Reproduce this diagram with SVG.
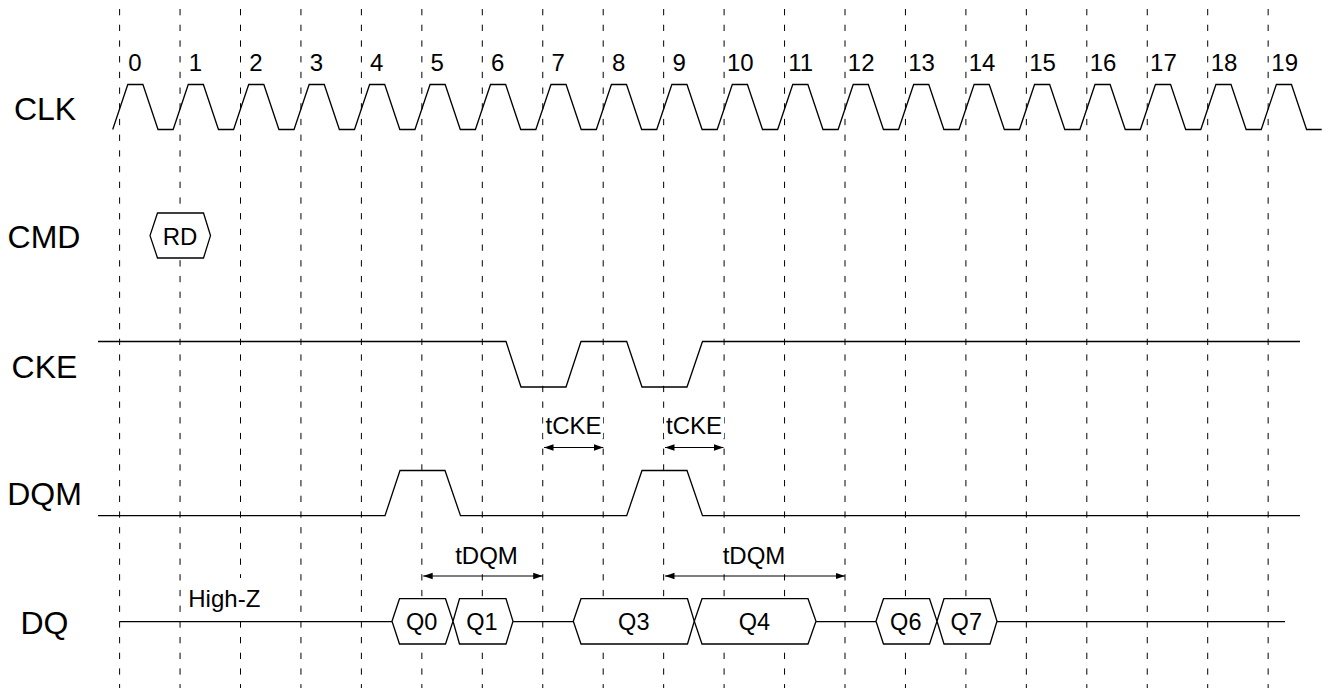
<svg xmlns="http://www.w3.org/2000/svg" width="1331" height="688" viewBox="0 0 1331 688">
<style>
text{font-family:"Liberation Sans",Arial,sans-serif;fill:#000;text-anchor:middle;font-size:24px}
.lab{font-size:32px}
.q{font-size:23.5px}
.g{stroke:#000;stroke-width:1;stroke-dasharray:6.3 9.4;fill:none}
.s{stroke:#000;stroke-width:1.3;fill:none;stroke-linejoin:miter}
.h{stroke:#000;stroke-width:1.3;fill:#fff}
.a{stroke:#000;stroke-width:1.2;fill:none;marker-start:url(#ah);marker-end:url(#ah)}
.w{fill:#fff;stroke:none}
</style>
<defs>
<marker id="ah" markerUnits="userSpaceOnUse" markerWidth="12" markerHeight="8" refX="9.5" refY="4" orient="auto-start-reverse"><path d="M0 0.8 L9.5 4 L0 7.2 Z" fill="#000"/></marker>
</defs>
<g id="connectors">
<g id="gridlines">
<path class="g" d="M119.6 9V688"/><path class="g" d="M180.05 9V688"/><path class="g" d="M240.5 9V688"/><path class="g" d="M300.95 9V688"/><path class="g" d="M361.4 9V688"/><path class="g" d="M421.85 9V688"/><path class="g" d="M482.3 9V688"/><path class="g" d="M542.75 9V688"/><path class="g" d="M603.2 9V688"/><path class="g" d="M663.65 9V688"/><path class="g" d="M724.1 9V688"/><path class="g" d="M784.55 9V688"/><path class="g" d="M845 9V688"/><path class="g" d="M905.45 9V688"/><path class="g" d="M965.9 9V688"/><path class="g" d="M1026.35 9V688"/><path class="g" d="M1086.8 9V688"/><path class="g" d="M1147.25 9V688"/><path class="g" d="M1207.7 9V688"/><path class="g" d="M1268.15 9V688"/>
</g>
<path class="a" d="M544 447.5H603.3"/>
<path class="a" d="M665 447.5H723.5"/>
<path class="a" d="M423.2 576H542.7"/>
<path class="a" d="M665 576H845"/>
</g>
<g id="clk">
<text class="lab" x="45" y="119.7">CLK</text>
<path class="s" d="M112.7 129.5l15.11-45h15.11l15.11 45h15.12l15.11-45h15.11l15.11 45h15.12l15.11-45h15.11l15.11 45h15.12l15.11-45h15.11l15.11 45h15.12l15.11-45h15.11l15.11 45h15.12l15.11-45h15.11l15.11 45h15.12l15.11-45h15.11l15.11 45h15.12l15.11-45h15.11l15.11 45h15.12l15.11-45h15.11l15.11 45h15.12l15.11-45h15.11l15.11 45h15.12l15.11-45h15.11l15.11 45h15.12l15.11-45h15.11l15.11 45h15.12l15.11-45h15.11l15.11 45h15.12l15.11-45h15.11l15.11 45h15.12l15.11-45h15.11l15.11 45h15.12l15.11-45h15.11l15.11 45h15.12l15.11-45h15.11l15.11 45h15.12l15.11-45h15.11l15.11 45h15.12l15.11-45h15.11l15.11 45h15.12l15.11-45h15.11l15.11 45h15.12"/>
<text x="135" y="70.6">0</text><text x="195.5" y="70.6">1</text><text x="256" y="70.6">2</text><text x="316.5" y="70.6">3</text><text x="376.8" y="70.6">4</text><text x="437.3" y="70.6">5</text><text x="497.7" y="70.6">6</text><text x="558.2" y="70.6">7</text><text x="618.6" y="70.6">8</text><text x="679.1" y="70.6">9</text><text x="740.3" y="70.6">10</text><text x="800.7" y="70.6">11</text><text x="861.2" y="70.6">12</text><text x="921.6" y="70.6">13</text><text x="982.1" y="70.6">14</text><text x="1042.5" y="70.6">15</text><text x="1103" y="70.6">16</text><text x="1163.4" y="70.6">17</text><text x="1224" y="70.6">18</text><text x="1284.7" y="70.6">19</text>
</g>
<g id="cmd">
<text class="lab" x="44" y="247.7">CMD</text>
<path class="h" d="M150 235.6L157.5 213H203.5L210.5 235.6L203.5 258H157.5Z"/>
<text x="180" y="245">RD</text>
</g>
<g id="cke">
<text class="lab" x="44.5" y="377.5">CKE</text>
<path class="s" d="M98 341.5H506L521 387H566L581 341.5H626.7L642 387H687L702.5 341.5H1300"/>
<rect class="w" x="543.5" y="410" width="59.5" height="28"/>
<text x="573.5" y="433.5">tCKE</text>
<rect class="w" x="664" y="410" width="60" height="28"/>
<text x="694" y="433.5">tCKE</text>
</g>
<g id="dqm">
<text class="lab" x="44.5" y="505">DQM</text>
<path class="s" d="M98 515.7H385L400 470.5H445L460.5 515.7H626.7L642 470.5H687L702.5 515.7H1300"/>
<rect class="w" x="454" y="538" width="64" height="27"/>
<text x="486.5" y="563.5">tDQM</text>
<rect class="w" x="722" y="538" width="64" height="27"/>
<text x="754" y="563.5">tDQM</text>
</g>
<g id="dq">
<text class="lab" x="44.5" y="634">DQ</text>
<path class="s" d="M119.6 621.6H392M513 621.6H573.3M816 621.6H876M997 621.6H1285"/>
<rect class="w" x="188" y="578" width="72" height="40"/>
<text x="224.3" y="606.8">High-Z</text>
<g id="q0"><path class="h" d="M392 621.3L399.5 598.7H445.5L453 621.3L445.5 644H399.5Z"/><text class="q" x="421.7" y="630">Q0</text></g>
<g id="q1"><path class="h" d="M453 621.3L459.5 598.7H506L513 621.3L506 644H459.5Z"/><text class="q" x="482" y="630">Q1</text></g>
<g id="q3"><path class="h" d="M573.3 621.3L581 598.7H687.5L694.3 621.3L687.5 644H581Z"/><text class="q" x="633.8" y="630">Q3</text></g>
<g id="q4"><path class="h" d="M694.3 621.3L702 598.7H808L816 621.3L808 644H702Z"/><text class="q" x="754.5" y="630">Q4</text></g>
<g id="q6"><path class="h" d="M876 621.3L883.5 598.7H929.5L937 621.3L929.5 644H883.5Z"/><text class="q" x="905.8" y="630">Q6</text></g>
<g id="q7"><path class="h" d="M937 621.3L944 598.7H990L997 621.3L990 644H944Z"/><text class="q" x="966.3" y="630">Q7</text></g>
</g>
</svg>
